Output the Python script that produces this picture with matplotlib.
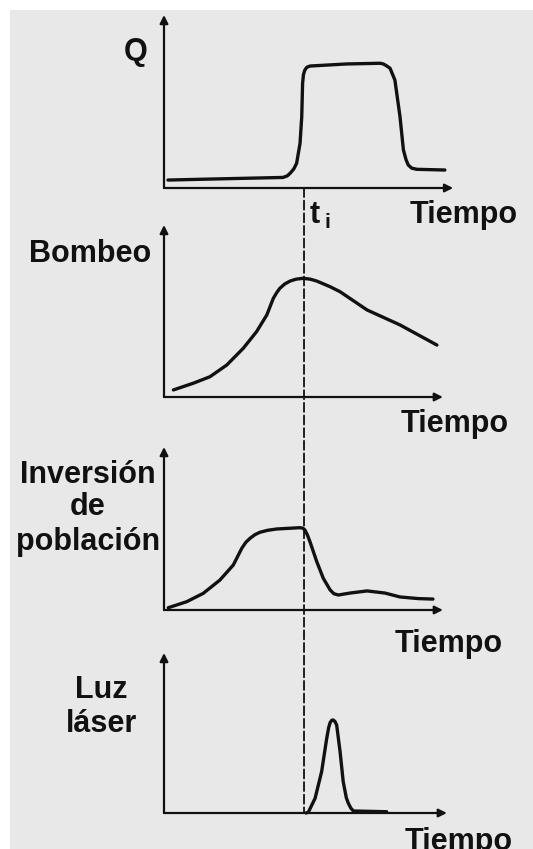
import matplotlib.pyplot as plt
from matplotlib.patches import Rectangle, ConnectionPatch

# curves: time (0..10) and relative height (0..1 of the y-axis)
q_t = [0.14, 2.0, 4.19, 4.34, 4.44, 4.57, 4.67, 4.79, 4.85, 4.88, 4.91, 4.96, 5.03, 5.14, 6.43, 7.61, 7.72, 7.82, 7.96, 8.13, 8.31, 8.43, 8.52, 8.6, 8.72, 8.9, 9.89]
q_v = [0.046, 0.053, 0.061, 0.07, 0.085, 0.11, 0.143, 0.258, 0.412, 0.605, 0.655, 0.682, 0.698, 0.705, 0.717, 0.721, 0.717, 0.708, 0.692, 0.624, 0.412, 0.22, 0.165, 0.133, 0.115, 0.108, 0.104]

pump_t = [0.33, 1.03, 1.62, 2.21, 2.79, 3.26, 3.62, 3.85, 3.97, 4.08, 4.25, 4.44, 4.65, 4.90, 5.15, 5.38, 5.85, 6.2, 7.15, 8.31, 9.61]
pump_v = [0.041, 0.080, 0.118, 0.186, 0.283, 0.380, 0.477, 0.574, 0.607, 0.632, 0.657, 0.674, 0.685, 0.690, 0.685, 0.674, 0.641, 0.612, 0.506, 0.419, 0.302]

inv_t = [0.15, 0.80, 1.38, 1.97, 2.44, 2.74, 2.88, 3.03, 3.2, 3.38, 3.65, 3.97, 4.79, 4.89, 4.96, 5.05, 5.14, 5.38, 5.61, 5.85, 5.98, 6.14, 6.55, 7.15, 7.78, 8.31, 8.95, 9.47]
inv_v = [0.014, 0.051, 0.102, 0.184, 0.276, 0.379, 0.415, 0.44, 0.462, 0.477, 0.489, 0.497, 0.505, 0.502, 0.491, 0.46, 0.419, 0.296, 0.194, 0.123, 0.1, 0.092, 0.104, 0.117, 0.104, 0.08, 0.07, 0.067]

laser_t = [5.0, 5.08, 5.32, 5.55, 5.73, 5.8, 5.85, 5.91, 5.96, 6.02, 6.08, 6.2, 6.31, 6.42, 6.49, 6.58, 6.67, 7.84]
laser_v = [0.0, 0.004, 0.092, 0.258, 0.467, 0.535, 0.565, 0.58, 0.581, 0.572, 0.55, 0.383, 0.196, 0.095, 0.061, 0.03, 0.0125, 0.008]

t_i = 4.93
ylabels = ["Q", "Bombeo", "Inversión\nde\npoblación", "Luz\nláser"]
xlabel = "Tiempo"

W, H = 533, 849
ink = "#111111"
bg = "#e8e8e8"
plt.rcParams['font.family'] = ['Liberation Sans', 'DejaVu Sans']

fig = plt.figure(figsize=(W / 100, H / 100), dpi=100, facecolor="white")
fig.patches.append(Rectangle((10 / W, 0), 1, 1 - 10 / H, transform=fig.transFigure,
                             facecolor=bg, edgecolor="none", zorder=-10))

def px(x, y):
    # pixel position (top-left origin) -> figure fraction
    return x / W, 1 - y / H

# panel boxes in pixels: baseline y, arrow-top y, x-axis arrow end (data units)
panels = [(188, 15, 10.18), (397, 225, 9.82), (610, 447, 9.82), (813, 653, 9.96)]
series = [(q_t, q_v), (pump_t, pump_v), (inv_t, inv_v), (laser_t, laser_v)]
left_px, right_px = 164, 448

axes = []
for (base, top, xend), (tt, vv) in zip(panels, series):
    l, b = px(left_px, base)
    ax = fig.add_axes([l, b, (right_px - left_px) / W, (base - top) / H])
    ax.set_xlim(0, 10)
    ax.set_ylim(0, 1)
    ax.axis("off")
    ax.annotate("", xy=(xend, 0), xytext=(0, 0),
                arrowprops=dict(arrowstyle="-|>", lw=1.6, color=ink, mutation_scale=12,
                                shrinkA=0, shrinkB=0), annotation_clip=False)
    ax.annotate("", xy=(0, 1), xytext=(0, 0),
                arrowprops=dict(arrowstyle="-|>", lw=1.6, color=ink, mutation_scale=12,
                                shrinkA=0, shrinkB=0), annotation_clip=False)
    ax.plot(tt, vv, color=ink, lw=2.4, solid_joinstyle="round", solid_capstyle="round",
            clip_on=False)
    axes.append(ax)

# dashed marker at t_i running through all panels
con = ConnectionPatch(xyA=(t_i, 0), coordsA=axes[0].transData,
                      xyB=(t_i, 0), coordsB=axes[3].transData,
                      linestyle=(0, (5, 2)), lw=1.3, color=ink, zorder=5)
fig.add_artist(con)

fs = 22
kw = dict(fontsize=fs, fontweight="bold", color=ink)

# y labels
fig.text(*px(136, 60), ylabels[0], ha="center", va="baseline", **kw)
fig.text(*px(29, 262), ylabels[1], ha="left", va="baseline", **kw)
for line, yb in zip(ylabels[2].split("\n"), [483, 515, 550]):
    fig.text(*px(88, yb), line, ha="center", va="baseline", **kw)
for line, yb in zip(ylabels[3].split("\n"), [698, 732]):
    fig.text(*px(101, yb), line, ha="center", va="baseline", **kw)

# x labels (the last one is cut by the bottom edge, as in the original)
for xr, yb in [(518, 223), (509, 432), (503, 652), (513, 850)]:
    fig.text(*px(xr, yb), xlabel, ha="right", va="baseline", **kw)

# t_i label
fig.text(*px(310, 223), "t", ha="left", va="baseline", **kw)
fig.text(*px(324, 228), "i", ha="left", va="baseline", fontsize=15, fontweight="bold", color=ink)

fig.savefig("out.png", dpi=100, facecolor=fig.get_facecolor())
